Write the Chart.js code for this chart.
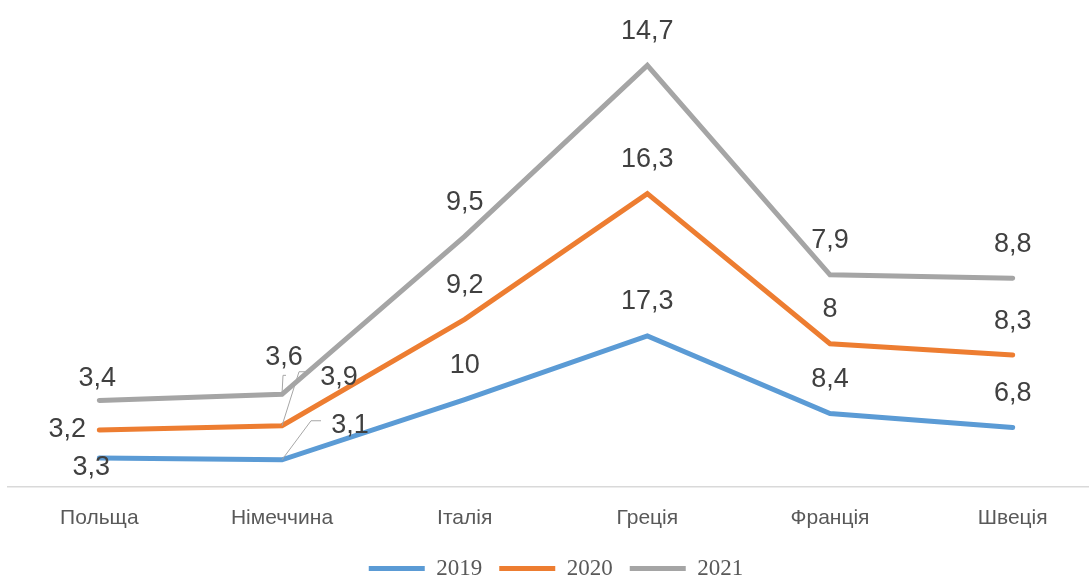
<!DOCTYPE html>
<html>
<head>
<meta charset="utf-8">
<script src="https://cdn.jsdelivr.net/npm/chart.js@4.4.1/dist/chart.umd.min.js"></script>
<style>
    html, body { margin: 0; padding: 0; background: #fff; overflow: hidden; }
    #wrap { width: 1104px; height: 576px; }
</style>
</head>
<body>
<div id="wrap"><canvas id="tourChart"></canvas></div>
<script>
// data
const countries = ['Польща', 'Німеччина', 'Італія', 'Греція', 'Франція', 'Швеція'];
const years = ['2019', '2020', '2021'];
const values2019 = [3.3, 3.1, 10, 17.3, 8.4, 6.8];
const values2020 = [3.2, 3.9, 9.2, 16.3, 8, 8.3];
const values2021 = [3.4, 3.6, 9.5, 14.7, 7.9, 8.8];
const seriesColors = ['#5B9BD5', '#ED7D31', '#A5A5A5'];

// label placement (centre of text relative to the point), default is above
const labelShift = {
    '0-0': [-8, 7], '1-0': [-32, -3], '2-0': [-2, -24],
    '0-1': [68, -36], '1-1': [57, -50], '2-1': [2, -39]
};
const leaderLines = {
    '0-1': [[29, -39], [39, -39]],
    '1-1': [[17, -54], [29, -54]],
    '2-1': [[1, -19], [4, -19]]
};

const pointLabels = {
    id: 'pointLabels',
    afterDatasetsDraw(chart) {
        const ctx = chart.ctx;
        ctx.save();
        chart.data.datasets.forEach(function (ds, d) {
            const meta = chart.getDatasetMeta(d);
            meta.data.forEach(function (pt, i) {
                const key = d + '-' + i;
                const lead = leaderLines[key];
                if (lead) {
                    ctx.beginPath();
                    ctx.strokeStyle = '#A6A6A6';
                    ctx.lineWidth = 1;
                    ctx.moveTo(pt.x, pt.y);
                    lead.forEach(function (p) { ctx.lineTo(pt.x + p[0], pt.y + p[1]); });
                    ctx.stroke();
                }
                const shift = labelShift[key] || [0, -36];
                ctx.fillStyle = '#404040';
                ctx.font = '27px "Liberation Sans", Arial, sans-serif';
                ctx.textAlign = 'center';
                ctx.textBaseline = 'alphabetic';
                ctx.fillText(String(ds.data[i]).replace('.', ','), pt.x + shift[0], pt.y + shift[1] + 9.5);
            });
        });
        ctx.restore();
    }
};

function makeSet(label, vals, color) {
    return {
        label: label,
        data: vals,
        borderColor: color,
        backgroundColor: color,
        borderWidth: 5,
        borderCapStyle: 'round',
        borderJoinStyle: 'miter',
        pointRadius: 0,
        pointHoverRadius: 0,
        tension: 0,
        fill: false
    };
}

function drawChart() {
    const el = $id('tourChart');
    new Chart(el, {
        type: 'line',
        data: {
            labels: countries,
            datasets: [
                makeSet(years[0], values2019, seriesColors[0]),
                makeSet(years[1], values2020, seriesColors[1]),
                makeSet(years[2], values2021, seriesColors[2])
            ]
        },
        options: {
            responsive: true,
            maintainAspectRatio: false,
            animation: false,
            layout: { padding: { left: 8, right: 0, top: 7, bottom: -14 } },
            plugins: {
                legend: {
                    display: true,
                    position: 'bottom',
                    labels: {
                        usePointStyle: true,
                        pointStyle: 'line',
                        pointStyleWidth: 56,
                        boxHeight: 23,
                        padding: 17,
                        color: '#595959',
                        font: { family: '"Liberation Serif", "Times New Roman", serif', size: 23 }
                    }
                },
                tooltip: { enabled: false }
            },
            scales: {
                x: {
                    offset: true,
                    grid: { display: false, drawTicks: false },
                    border: { display: true, color: '#D9D9D9', width: 1.5 },
                    ticks: {
                        padding: 19,
                        color: '#595959',
                        font: { family: '"Liberation Sans", Arial, sans-serif', size: 21 }
                    },
                    afterFit: function (scale) {
                        scale.height -= 10;
                    }
                },
                y: {
                    display: false,
                    stacked: true,
                    min: 0,
                    max: 55
                }
            }
        },
        plugins: [pointLabels]
    });
}

function $id(id) { return document.getElementById(id); }

drawChart();
</script>
</body>
</html>
